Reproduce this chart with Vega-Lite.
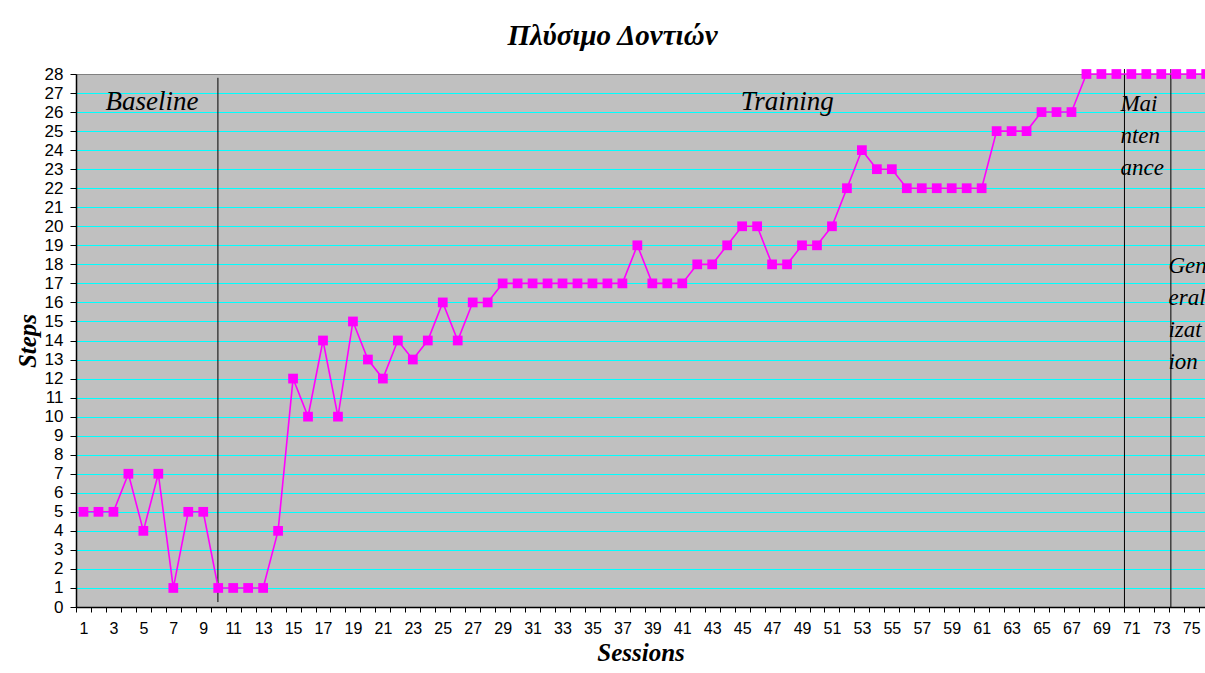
{
  "$schema": "https://vega.github.io/schema/vega-lite/v6.json",
  "width": 1129,
  "height": 533,
  "autosize": {"type": "none"},
  "padding": {"left": 76, "top": 74, "right": 0, "bottom": 66},
  "background": "white",
  "config": {
    "view": {"fill": "#C0C0C0", "stroke": "#808080", "strokeWidth": 1},
    "font": "Liberation Sans"
  },
  "title": {
    "text": "Πλύσιμο Δοντιών",
    "font": "Liberation Serif",
    "fontSize": 29,
    "fontStyle": "italic",
    "fontWeight": "bold",
    "color": "black",
    "anchor": "middle",
    "dx": -28,
    "offset": 14
  },
  "datasets": {
    "steps": [
      {"session": 1, "steps": 5}, {"session": 2, "steps": 5}, {"session": 3, "steps": 5}, {"session": 4, "steps": 7},
      {"session": 5, "steps": 4}, {"session": 6, "steps": 7}, {"session": 7, "steps": 1}, {"session": 8, "steps": 5},
      {"session": 9, "steps": 5}, {"session": 10, "steps": 1}, {"session": 11, "steps": 1}, {"session": 12, "steps": 1},
      {"session": 13, "steps": 1}, {"session": 14, "steps": 4}, {"session": 15, "steps": 12}, {"session": 16, "steps": 10},
      {"session": 17, "steps": 14}, {"session": 18, "steps": 10}, {"session": 19, "steps": 15}, {"session": 20, "steps": 13},
      {"session": 21, "steps": 12}, {"session": 22, "steps": 14}, {"session": 23, "steps": 13}, {"session": 24, "steps": 14},
      {"session": 25, "steps": 16}, {"session": 26, "steps": 14}, {"session": 27, "steps": 16}, {"session": 28, "steps": 16},
      {"session": 29, "steps": 17}, {"session": 30, "steps": 17}, {"session": 31, "steps": 17}, {"session": 32, "steps": 17},
      {"session": 33, "steps": 17}, {"session": 34, "steps": 17}, {"session": 35, "steps": 17}, {"session": 36, "steps": 17},
      {"session": 37, "steps": 17}, {"session": 38, "steps": 19}, {"session": 39, "steps": 17}, {"session": 40, "steps": 17},
      {"session": 41, "steps": 17}, {"session": 42, "steps": 18}, {"session": 43, "steps": 18}, {"session": 44, "steps": 19},
      {"session": 45, "steps": 20}, {"session": 46, "steps": 20}, {"session": 47, "steps": 18}, {"session": 48, "steps": 18},
      {"session": 49, "steps": 19}, {"session": 50, "steps": 19}, {"session": 51, "steps": 20}, {"session": 52, "steps": 22},
      {"session": 53, "steps": 24}, {"session": 54, "steps": 23}, {"session": 55, "steps": 23}, {"session": 56, "steps": 22},
      {"session": 57, "steps": 22}, {"session": 58, "steps": 22}, {"session": 59, "steps": 22}, {"session": 60, "steps": 22},
      {"session": 61, "steps": 22}, {"session": 62, "steps": 25}, {"session": 63, "steps": 25}, {"session": 64, "steps": 25},
      {"session": 65, "steps": 26}, {"session": 66, "steps": 26}, {"session": 67, "steps": 26}, {"session": 68, "steps": 28},
      {"session": 69, "steps": 28}, {"session": 70, "steps": 28}, {"session": 71, "steps": 28}, {"session": 72, "steps": 28},
      {"session": 73, "steps": 28}, {"session": 74, "steps": 28}, {"session": 75, "steps": 28}, {"session": 76, "steps": 28}
    ],
    "phases": [
      {"session": 9.98, "steps": 0.26, "to": 27.8},
      {"session": 70.54, "steps": 0, "to": 28.26},
      {"session": 73.64, "steps": 0, "to": 28.26}
    ],
    "bigLabels": [
      {"session": 2.47, "steps": 26.1, "label": "Baseline"},
      {"session": 44.9, "steps": 26.1, "label": "Training"}
    ],
    "smallLabels": [
      {"session": 70.27, "steps": 26.05, "label": ["Mai", "nten", "ance"]},
      {"session": 73.48, "steps": 17.54, "label": ["Gen", "eral", "izat", "ion"]}
    ]
  },
  "resolve": {"axis": {"x": "independent"}},
  "encoding": {
    "y": {
      "field": "steps", "type": "quantitative", "scale": {"domain": [0, 28], "nice": false, "zero": true},
      "axis": {
        "values": [0,1,2,3,4,5,6,7,8,9,10,11,12,13,14,15,16,17,18,19,20,21,22,23,24,25,26,27,28],
        "grid": true,
        "gridColor": {"condition": {"test": "datum.value === 28", "value": "#808080"}, "value": "#00FFFF"},
        "gridWidth": 1, "gridOpacity": 1,
        "domainColor": "black", "domainWidth": 1.5, "tickColor": "black", "tickSize": 6,
        "labelFont": "Liberation Sans", "labelFontSize": 17, "labelColor": "black", "labelPadding": 7,
        "labelFlush": false, "labelOverlap": false,
        "title": "Steps", "titleFont": "Liberation Serif", "titleFontSize": 25,
        "titleFontStyle": "italic", "titleFontWeight": "bold", "titleColor": "black", "titlePadding": 4
      }
    }
  },
  "layer": [
    {
      "data": {"name": "phases"},
      "mark": {"type": "rule", "color": "black", "strokeWidth": 1},
      "encoding": {
        "x": {"field": "session", "type": "quantitative", "scale": {"domain": [0.5, 75.92], "nice": false, "zero": false}, "axis": null},
        "y2": {"field": "to"}
      }
    },
    {
      "data": {"name": "steps"},
      "mark": {"type": "line", "color": "#FF00FF", "strokeWidth": 1.6},
      "encoding": {
        "x": {
          "field": "session", "type": "quantitative",
          "axis": {
            "orient": "bottom",
            "values": [1,3,5,7,9,11,13,15,17,19,21,23,25,27,29,31,33,35,37,39,41,43,45,47,49,51,53,55,57,59,61,63,65,67,69,71,73,75],
            "ticks": false, "domain": false, "grid": false,
            "labelFont": "Liberation Sans", "labelFontSize": 16, "labelColor": "black",
            "labelPadding": 13, "labelFlush": false, "labelOverlap": false,
            "title": "Sessions", "titleFont": "Liberation Serif", "titleFontSize": 25,
            "titleFontStyle": "italic", "titleFontWeight": "bold", "titleColor": "black", "titlePadding": 4
          }
        }
      }
    },
    {
      "data": {"name": "steps"},
      "mark": {"type": "point", "shape": "square", "filled": true, "color": "#FF00FF", "size": 95, "opacity": 1},
      "encoding": {
        "x": {
          "field": "session", "type": "quantitative",
          "axis": {
            "orient": "bottom",
            "values": [0.5,1.5,2.5,3.5,4.5,5.5,6.5,7.5,8.5,9.5,10.5,11.5,12.5,13.5,14.5,15.5,16.5,17.5,18.5,19.5,20.5,21.5,22.5,23.5,24.5,25.5,26.5,27.5,28.5,29.5,30.5,31.5,32.5,33.5,34.5,35.5,36.5,37.5,38.5,39.5,40.5,41.5,42.5,43.5,44.5,45.5,46.5,47.5,48.5,49.5,50.5,51.5,52.5,53.5,54.5,55.5,56.5,57.5,58.5,59.5,60.5,61.5,62.5,63.5,64.5,65.5,66.5,67.5,68.5,69.5,70.5,71.5,72.5,73.5,74.5,75.5],
            "labels": false, "grid": false, "title": null,
            "domainColor": "black", "domainWidth": 1.5, "tickColor": "black", "tickSize": 5
          }
        }
      }
    },
    {
      "data": {"name": "bigLabels"},
      "mark": {"type": "text", "font": "Liberation Serif", "fontStyle": "italic", "fontSize": 27, "align": "left", "baseline": "alphabetic", "color": "black"},
      "encoding": {
        "x": {"field": "session", "type": "quantitative", "axis": null},
        "text": {"field": "label"}
      }
    },
    {
      "data": {"name": "smallLabels"},
      "mark": {"type": "text", "font": "Liberation Serif", "fontStyle": "italic", "fontSize": 23, "align": "left", "baseline": "alphabetic", "lineHeight": 32, "color": "black"},
      "encoding": {
        "x": {"field": "session", "type": "quantitative", "axis": null},
        "text": {"field": "label"}
      }
    }
  ]
}
